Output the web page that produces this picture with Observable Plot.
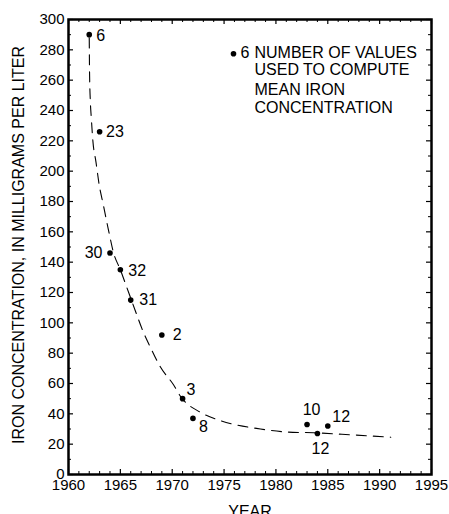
<!DOCTYPE html>
<html>
<head>
<meta charset="utf-8">
<script src="https://cdn.jsdelivr.net/npm/d3@7"></script>
<script src="https://cdn.jsdelivr.net/npm/@observablehq/plot@0.6"></script>
<style>
  html, body { margin: 0; padding: 0; background: #fff; }
  #chart svg { display: block; }
</style>
</head>
<body>
<div id="chart"></div>
<script>
// ---- data ----
const years = [1962, 1963, 1964, 1965, 1966, 1969, 1971, 1972, 1983, 1984, 1985];
const iron = [290, 226, 146, 135, 115, 92, 50, 37, 33, 27, 32];
const counts = [6, 23, 30, 32, 31, 2, 3, 8, 10, 12, 12];

// dashed fitted curve
const curveYears = [1962.0, 1962.03, 1962.1, 1962.2, 1962.35, 1962.65, 1962.96, 1963.32, 1963.86, 1964.35, 1965.0, 1965.64, 1966.44, 1967.09, 1967.89, 1968.85, 1970.14, 1970.8, 1972.72, 1974.65, 1978.51, 1981.09, 1983.66, 1987.2, 1991.07];
const curveIron = [288, 265, 247, 235, 220, 206, 191, 179, 161, 146, 135, 123, 108, 96, 84, 71, 59, 51.5, 41, 35.5, 30, 28, 27.5, 26.2, 24.6];

const xMajor = [1960, 1965, 1970, 1975, 1980, 1985, 1990, 1995];
const xMinor = d3.range(1960, 1996).filter(d => d % 5 !== 0);
const yMajor = [0, 20, 40, 60, 80, 100, 120, 140, 160, 180, 200, 220, 240, 260, 280, 300];
const yMinor = d3.range(10, 300, 20);

const legendCount = 6;
const legendLines = ["NUMBER OF VALUES", "USED TO COMPUTE", "MEAN IRON", "CONCENTRATION"];
const xLabel = "YEAR";
const yLabel = "IRON CONCENTRATION, IN MILLIGRAMS PER LITER";

// ---- styling / layout ----
const W = 449, H = 514;
const mT = 19, mL = 68, mR = 18, mB = 40;
const plotW = W - mL - mR, plotH = H - mT - mB;
const font = "'Liberation Sans', Arial, Helvetica, sans-serif";

// label placement offsets (pixels) for each point label, in order
const labelPlace = [
  {dx: 7, dy: 1, anchor: "start"},
  {dx: 6.5, dy: 0, anchor: "start"},
  {dx: -7.5, dy: 0, anchor: "end"},
  {dx: 8, dy: 1, anchor: "start"},
  {dx: 8.5, dy: 0, anchor: "start"},
  {dx: 11, dy: 0, anchor: "start"},
  {dx: 4, dy: -9, anchor: "start"},
  {dx: 6, dy: 8.5, anchor: "start"},
  {dx: 4.5, dy: -15, anchor: "middle"},
  {dx: 3, dy: 15, anchor: "middle"},
  {dx: 4.5, dy: -9, anchor: "start"}
];

const points = years.map((y, i) => ({year: y, iron: iron[i], n: counts[i], ...labelPlace[i]}));
const curve = curveYears.map((y, i) => ({year: y, iron: curveIron[i]}));

// legend line offsets below the frame top (pixels)
const legendLineY = [33.5, 50.5, 70.5, 88];

const labelMarks = ["start", "middle", "end"].map(a => {
  const sub = points.filter(p => p.anchor === a);
  return sub.map(p => Plot.text([p], {
    x: "year", y: "iron", text: d => String(d.n),
    dx: p.dx, dy: p.dy, textAnchor: a, lineAnchor: "middle",
    fontSize: 16, fill: "black"
  }));
}).flat();

const chart = Plot.plot({
  width: W, height: H,
  marginTop: mT, marginLeft: mL, marginRight: mR, marginBottom: mB,
  style: {fontFamily: font, fontSize: "15px", background: "white", color: "black"},
  x: {domain: [1960, 1995]},
  y: {domain: [0, 300]},
  marks: [
    // inward ticks: bottom & top
    Plot.tickX(xMajor, {x: d => d, insetTop: plotH - 5, stroke: "black", strokeWidth: 1.2}),
    Plot.tickX(xMinor, {x: d => d, insetTop: plotH - 3, stroke: "black", strokeWidth: 1}),
    Plot.tickX(xMajor, {x: d => d, insetBottom: plotH - 5, stroke: "black", strokeWidth: 1.2}),
    Plot.tickX(xMinor, {x: d => d, insetBottom: plotH - 3, stroke: "black", strokeWidth: 1}),
    // inward ticks: left & right
    Plot.tickY(yMajor, {y: d => d, insetRight: plotW - 5, stroke: "black", strokeWidth: 1.2}),
    Plot.tickY(yMinor, {y: d => d, insetRight: plotW - 3, stroke: "black", strokeWidth: 1}),
    Plot.tickY(yMajor, {y: d => d, insetLeft: plotW - 5, stroke: "black", strokeWidth: 1.2}),
    Plot.tickY(yMinor, {y: d => d, insetLeft: plotW - 3, stroke: "black", strokeWidth: 1}),
    Plot.frame({stroke: "black", strokeWidth: 2.5}),
    Plot.axisX({ticks: xMajor, tickSize: 0, tickPadding: 5, tickFormat: d => String(d), label: null, fontSize: 15}),
    Plot.axisY({ticks: yMajor, tickSize: 0, tickPadding: 4, tickFormat: d => String(d), label: null, fontSize: 15}),
    // fitted curve
    Plot.line(curve, {x: "year", y: "iron", curve: "monotone-x", stroke: "black", strokeWidth: 1.1, strokeDasharray: "10,7"}),
    // data points
    Plot.dot(points, {x: "year", y: "iron", r: 2.8, fill: "black", stroke: "none"}),
    ...labelMarks,
    // legend
    Plot.dot([legendCount], {frameAnchor: "top-left", dx: 165, dy: 34.3, r: 2.8, fill: "black", stroke: "none"}),
    Plot.text([String(legendCount)], {frameAnchor: "top-left", dx: 172, dy: legendLineY[0], textAnchor: "start", lineAnchor: "middle", fontSize: 16}),
    ...legendLines.map((t, i) => Plot.text([t], {frameAnchor: "top-left", dx: 186, dy: legendLineY[i], textAnchor: "start", lineAnchor: "middle", fontSize: 16})),
    // axis titles
    Plot.text([yLabel], {frameAnchor: "left", dx: -50, dy: -2, rotate: -90, textAnchor: "middle", lineAnchor: "middle", fontSize: 16}),
    Plot.text([xLabel], {frameAnchor: "bottom", dy: 37.5, textAnchor: "middle", lineAnchor: "middle", fontSize: 16})
  ]
});

document.getElementById("chart").appendChild(chart);
</script>
</body>
</html>
